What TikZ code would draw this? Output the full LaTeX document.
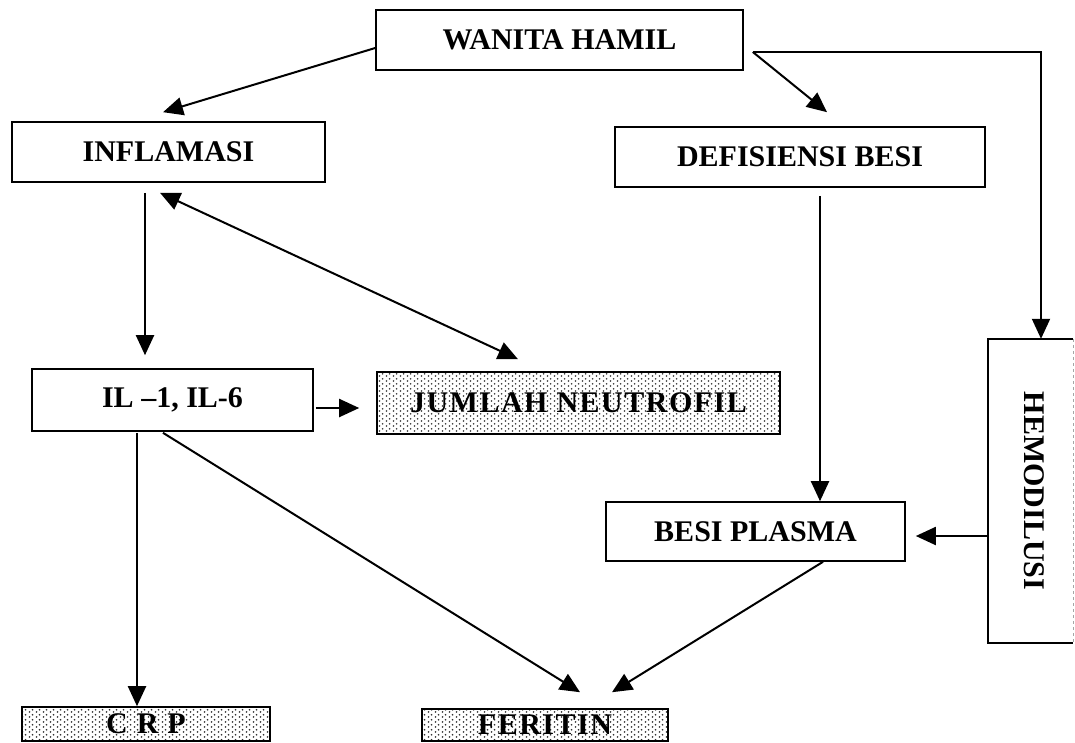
\documentclass[tikz,border=0pt]{standalone}
\usepackage{fontspec}
\setmainfont{Liberation Serif}
\usetikzlibrary{arrows.meta,calc,patterns.meta}

\tikzdeclarepattern{
  name=sparsedots,
  type=uncolored,
  bottom left={(0pt,0pt)},
  top right={(7pt,5pt)},
  tile size={(7pt,5pt)},
  code={\fill (1.75pt,1.25pt) circle (1.05pt); \fill (5.25pt,3.75pt) circle (1.05pt);}
}

\begin{document}
\begin{tikzpicture}[x=1pt,y=-1pt,
  boxfont/.style={font=\fontsize{30}{32}\selectfont\bfseries},
  box/.style={draw, line width=1.6pt, inner sep=0pt, boxfont},
  shadebox/.style={box, pattern=sparsedots, pattern color=black!80,
    font=\fontsize{30}{32}\selectfont\bfseries\addfontfeatures{LetterSpace=5}},
  arr/.style={line width=2pt, -{Triangle[length=20pt,width=18pt]}},
  darr/.style={line width=2pt, {Triangle[length=20pt,width=18pt]}-{Triangle[length=20pt,width=18pt]}},
]
\useasboundingbox (0,0) rectangle (1075,742);

% boxes
\node[box, minimum width=367pt, minimum height=60pt] (wanita) at (559.5,40) {WANITA HAMIL};
\node[box, minimum width=313pt, minimum height=60pt] (inflam) at (168.5,152) {INFLAMASI};
\node[box, minimum width=370pt, minimum height=60pt] (defis) at (800,157) {DEFISIENSI BESI};
\node[box, minimum width=281pt, minimum height=62pt] (il) at (172.5,400) {IL \textendash1, IL-6};
\node[shadebox, minimum width=403pt, minimum height=62pt] (jumlah) at (578.5,403) {JUMLAH NEUTROFIL};
\node[boxfont, inner sep=0pt, minimum width=85pt, minimum height=304pt] (hemo) at (1030.5,491) {\hspace*{8pt}\rotatebox{-90}{HEMODILUSI}};
\draw[line width=1.6pt] (hemo.north east) -- (hemo.north west) -- (hemo.south west) -- (hemo.south east);
\draw[line width=0.5pt, black!35, dashed] (hemo.north east) -- (hemo.south east);
\node[box, minimum width=299pt, minimum height=59pt] (besi) at (755.5,531.5) {BESI PLASMA};
\node[shadebox, minimum width=248pt, minimum height=34pt] (crp) at (146,724) {C R P};
\node[shadebox, minimum width=246pt, minimum height=32pt] (feritin) at (545,725) {FERITIN};

% connectors
\draw[arr] ($(wanita.west)+(0,8)$) -- ($(inflam.north)+(-5.5,-9)$);
\coordinate (wsplit) at ($(wanita.east)+(9,12)$);
\draw[arr] (wsplit) -- ($(defis.north)+(27,-14)$);
\draw[arr] (wsplit) -| ($(hemo.north)+(10.5,0)$);
\draw[arr] ($(inflam.south)+(-23.5,10)$) -- ($(il.north)+(-27.5,-13)$);
\draw[darr] ($(inflam.south)+(-8.5,10)$) -- ($(jumlah.north)+(-60.5,-12)$);
\draw[arr] ($(il.east)+(2,8)$) -- ($(jumlah.west)+(-17,5)$);
\draw[arr] ($(defis.south)+(20,8)$) -- ($(besi.north)+(64.5,0)$);
\draw[arr] ($(hemo.west)+(0,45)$) -- ($(besi.east)+(10,4.5)$);
\draw[arr] ($(il.south)+(-35.5,1)$) -- ($(crp.north)+(-9,0)$);
\draw[arr] ($(il.south)+(-9.5,1)$) -- ($(feritin.north)+(35,-16)$);
\draw[arr] ($(besi.south)+(67.5,0)$) -- ($(feritin.north)+(67,-16)$);
\end{tikzpicture}
\end{document}
